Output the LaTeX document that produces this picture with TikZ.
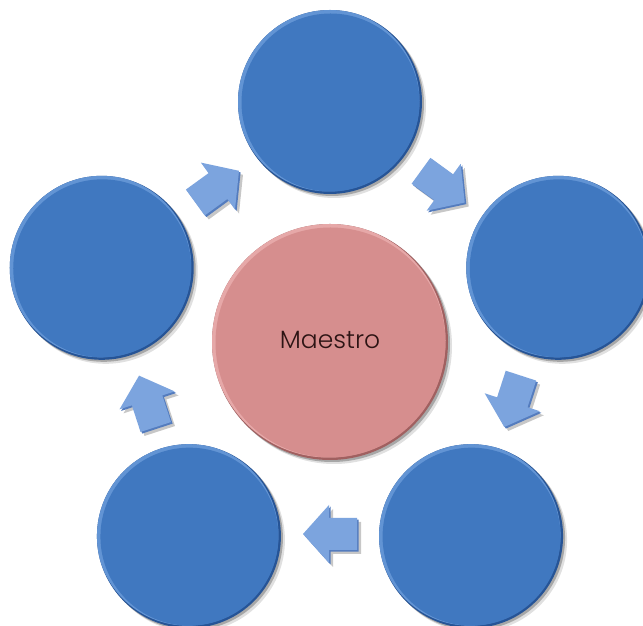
\documentclass[tikz,border=0pt]{standalone}
\usepackage{fontspec}
\setmainfont{Poppins}[UprightFont={* Light}]
\usetikzlibrary{shadows}
\definecolor{bmain}{RGB}{64,120,192}
\definecolor{bdark}{RGB}{38,84,150}
\definecolor{blight}{RGB}{98,148,212}
\definecolor{pmain}{RGB}{214,142,142}
\definecolor{pdark}{RGB}{160,96,96}
\definecolor{plight}{RGB}{230,168,168}
\definecolor{amain}{RGB}{124,164,222}
\definecolor{adark}{RGB}{84,124,190}
\definecolor{txt}{RGB}{45,20,20}
\newcommand{\blockarrowpath}{(27pt,0pt) -- (1pt,29pt) -- (1pt,16pt) -- (-27pt,16pt) -- (-27pt,-16pt) -- (1pt,-16pt) -- (1pt,-29pt) -- cycle}
\tikzset{
  softshadow/.style={drop shadow={shadow xshift=2pt,shadow yshift=-2pt,opacity=.25,fill=black},
                     drop shadow={shadow xshift=4pt,shadow yshift=-4pt,opacity=.12,fill=black}},
  bubble/.style={circle,inner sep=0pt,minimum size=184pt,fill=bdark,softshadow,
    path picture={
      \fill[blight] ([shift={(-1.5pt,1.5pt)}]path picture bounding box.center) circle (91pt);
      \fill[bmain] ([shift={(0.5pt,-0.5pt)}]path picture bounding box.center) circle (89pt);
    }},
  hub/.style={circle,inner sep=0pt,minimum size=236pt,fill=pdark,softshadow,
    text=txt,font=\fontsize{25pt}{30pt}\selectfont,
    path picture={
      \fill[plight] ([shift={(-1.5pt,1.5pt)}]path picture bounding box.center) circle (117pt);
      \fill[pmain] ([shift={(0.5pt,-0.5pt)}]path picture bounding box.center) circle (115pt);
    }},
  arrowshadow/.style={fill=black,opacity=.22},
  arrowside/.style={fill=adark},
  arrowface/.style={fill=amain},
}
\newcommand{\blockarrow}[3]{%
  \coordinate (#1) at (#2:192pt);
  \fill[arrowshadow,shift={(#1)},shift={(4pt,-4pt)},rotate=#3] \blockarrowpath;
  \fill[arrowside,shift={(#1)},shift={(1.6pt,-1.6pt)},rotate=#3] \blockarrowpath;
  \fill[arrowface,shift={(#1)},rotate=#3] \blockarrowpath;
}
\begin{document}
\begin{tikzpicture}
\useasboundingbox (0,0) rectangle (643pt,626pt);
\clip (0,0) rectangle (643pt,626pt);
\fill[white] (0,0) rectangle (643pt,626pt);
\begin{scope}[shift={(330pt,284pt)}]
  \node[bubble] (n1) at (90:240pt) {};
  \node[bubble] (n2) at (18:240pt) {};
  \node[bubble] (n3) at (-54:240pt) {};
  \node[bubble] (n4) at (-126:240pt) {};
  \node[bubble] (n5) at (162:240pt) {};
  \node[hub] (c0) at (0,0) {\raisebox{5pt}{Maestro}};
  \blockarrow{a1}{126}{36}
  \blockarrow{a2}{54}{-36}
  \blockarrow{a3}{-18}{-108}
  \blockarrow{a4}{-90}{-180}
  \blockarrow{a5}{198}{108}
\end{scope}
\end{tikzpicture}
\end{document}
